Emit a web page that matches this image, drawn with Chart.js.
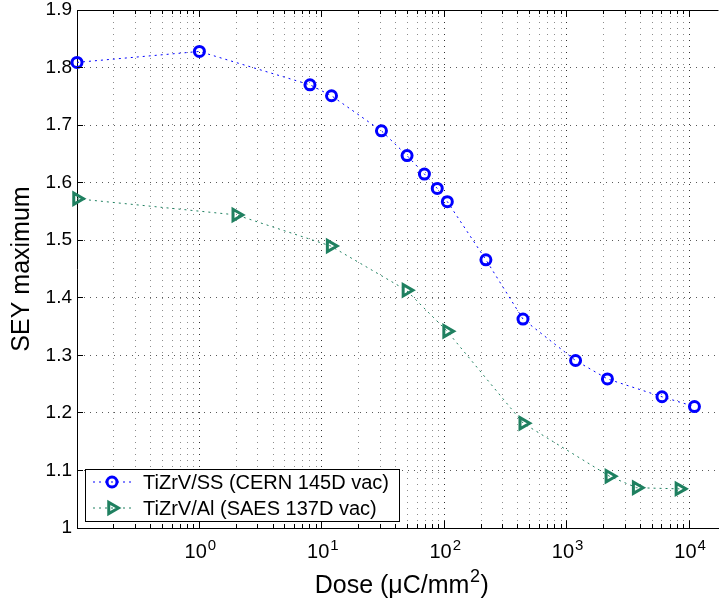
<!DOCTYPE html>
<html>
<head>
<meta charset="utf-8">
<script src="https://cdn.jsdelivr.net/npm/chart.js@4.4.1/dist/chart.umd.min.js"></script>
<style>
  html, body { margin: 0; padding: 0; background: #fff; }
  canvas { display: block; }
</style>
</head>
<body>
<canvas id="seyChart" width="728" height="604"></canvas>
<script>
// SEY maximum vs dose, two TiZrV coatings
const doseSS = [0.1, 1.0, 8.0, 12.0, 30.7, 49.7, 68.9, 87.7, 106, 219, 440, 1183, 2154, 6010, 11070];
const seySS  = [1.809, 1.828, 1.770, 1.751, 1.690, 1.647, 1.615, 1.590, 1.567, 1.466, 1.363, 1.291, 1.259, 1.228, 1.211];
const doseAl = [0.1, 2.0, 11.8, 49.1, 105.5, 442, 2234, 3732, 8340];
const seyAl  = [1.572, 1.544, 1.490, 1.413, 1.342, 1.182, 1.090, 1.070, 1.068];
const seriesLabels = ['TiZrV/SS (CERN 145D vac)', 'TiZrV/Al (SAES 137D vac)'];
const xLabelValues = [1, 10, 100, 1000, 10000];
const yTickValues = [1, 1.1, 1.2, 1.3, 1.4, 1.5, 1.6, 1.7, 1.8, 1.9];
const xLimits = [0.1, 17400];
const xTitle = ['Dose (μC/mm', '2', ')'];

const FONT = '"Liberation Sans", Arial, Helvetica, sans-serif';

const isDecade = v => Math.abs(Math.log10(v) - Math.round(Math.log10(v))) < 1e-9;

// grid positions 1..9 x 10^k inside the x limits
const xGrid = [];
for (let k = Math.floor(Math.log10(xLimits[0])); k <= Math.ceil(Math.log10(xLimits[1])); k++) {
  for (let m = 1; m <= 9; m++) {
    const v = m * Math.pow(10, k);
    if (v >= xLimits[0] * 0.999 && v <= xLimits[1]) xGrid.push(Number(v.toPrecision(6)));
  }
}

const alignPx = p => Math.round(p - 0.5) + 0.5;

// inner tick marks, top frame line, 10^n labels, x title, legend box
const decor = {
  id: 'decor',
  afterDraw(chart) {
    const { ctx, chartArea: a, scales: { x, y } } = chart;
    ctx.save();
    ctx.strokeStyle = '#000';
    ctx.lineWidth = 1;
    ctx.setLineDash([]);
    ctx.beginPath();
    ctx.moveTo(a.left, a.top + 0.5);
    ctx.lineTo(a.right, a.top + 0.5);
    x.ticks.forEach(t => {
      const px = alignPx(x.getPixelForValue(t.value));
      const len = isDecade(t.value) ? 7 : 4;
      ctx.moveTo(px, a.bottom); ctx.lineTo(px, a.bottom - len);
      ctx.moveTo(px, a.top); ctx.lineTo(px, a.top + len);
    });
    y.ticks.forEach(t => {
      const py = alignPx(y.getPixelForValue(t.value));
      ctx.moveTo(a.left, py); ctx.lineTo(a.left + 6, py);
    });
    ctx.stroke();

    // x tick labels as 10 with raised exponent
    ctx.fillStyle = '#000';
    ctx.textBaseline = 'alphabetic';
    ctx.textAlign = 'left';
    xLabelValues.forEach(v => {
      const px = x.getPixelForValue(v);
      const exp = String(Math.round(Math.log10(v)));
      ctx.font = '20px ' + FONT;
      const wBase = ctx.measureText('10').width;
      ctx.font = '15px ' + FONT;
      const wExp = ctx.measureText(exp).width;
      const start = px - (wBase + 1 + wExp) / 2 + 1;
      ctx.font = '20px ' + FONT;
      ctx.fillText('10', start, a.bottom + 30);
      ctx.font = '15px ' + FONT;
      ctx.fillText(exp, start + wBase + 1, a.bottom + 22);
    });

    // x axis title with superscript
    const big = '25px ' + FONT, small = '18px ' + FONT;
    ctx.font = big;
    const w0 = ctx.measureText(xTitle[0]).width;
    const w2 = ctx.measureText(xTitle[2]).width;
    ctx.font = small;
    const w1 = ctx.measureText(xTitle[1]).width;
    let tx = (a.left + a.right) / 2 + 4 - (w0 + w1 + w2 + 1) / 2;
    const base = a.bottom + 65;
    ctx.font = big;
    ctx.fillText(xTitle[0], tx, base);
    tx += w0 + 0.5;
    ctx.font = small;
    ctx.fillText(xTitle[1], tx, base - 11);
    tx += w1 + 0.5;
    ctx.font = big;
    ctx.fillText(xTitle[2], tx, base);

    // legend
    ctx.font = '20px ' + FONT;
    const sets = chart.data.datasets;
    const tw = Math.max(...sets.map(d => ctx.measureText(d.label).width));
    const rowH = 26;
    const left = a.left + 8;
    const w = 58 + tw + 10;
    const h = rowH * sets.length;
    const top = a.bottom - 7 - h;
    ctx.fillStyle = '#fff';
    ctx.fillRect(left, top, w, h);
    ctx.strokeStyle = '#000';
    ctx.strokeRect(Math.round(left) + 0.5, Math.round(top) + 0.5, Math.round(w), Math.round(h));
    sets.forEach((d, i) => {
      const cy = top + rowH * (i + 0.5);
      ctx.strokeStyle = d.borderColor;
      ctx.lineWidth = d.borderWidth;
      ctx.setLineDash(d.borderDash);
      ctx.beginPath();
      ctx.moveTo(left + 8, cy);
      ctx.lineTo(left + 46, cy);
      ctx.stroke();
      ctx.setLineDash([]);
      const mx = left + 27;
      const r = d.pointRadius;
      ctx.strokeStyle = d.pointBorderColor;
      ctx.lineWidth = d.pointBorderWidth;
      ctx.beginPath();
      if (d.pointStyle === 'circle') {
        ctx.arc(mx, cy, r, 0, Math.PI * 2);
      } else {
        let rad = (d.pointRotation || 0) * Math.PI / 180;
        for (let k = 0; k < 3; k++) {
          const px = mx + Math.sin(rad) * r, py = cy - Math.cos(rad) * r;
          if (k === 0) ctx.moveTo(px, py); else ctx.lineTo(px, py);
          rad += 2 * Math.PI / 3;
        }
        ctx.closePath();
      }
      ctx.stroke();
      ctx.fillStyle = '#000';
      ctx.textBaseline = 'middle';
      ctx.fillText(d.label, left + 58, cy + 1);
    });
    ctx.restore();
  }
};

new Chart(document.getElementById('seyChart'), {
  type: 'line',
  data: {
    datasets: [{
      label: seriesLabels[0],
      data: doseSS.map((d, i) => ({ x: d, y: seySS[i] })),
      borderColor: '#0000ff',
      borderWidth: 1,
      borderDash: [2, 4],
      pointStyle: 'circle',
      pointRadius: 5,
      pointBorderWidth: 3,
      pointBorderColor: '#0000ff',
      pointBackgroundColor: 'rgba(0,0,0,0)',
      tension: 0,
      fill: false,
      clip: false
    }, {
      label: seriesLabels[1],
      data: doseAl.map((d, i) => ({ x: d, y: seyAl[i] })),
      borderColor: '#1f8060',
      borderWidth: 1,
      borderDash: [2, 4],
      pointStyle: 'triangle',
      pointRotation: 90,
      pointRadius: 6.5,
      pointBorderWidth: 3,
      pointBorderColor: '#1f8060',
      pointBackgroundColor: 'rgba(0,0,0,0)',
      tension: 0,
      fill: false,
      clip: false
    }]
  },
  options: {
    responsive: false,
    animation: false,
    devicePixelRatio: 1,
    layout: { padding: { top: 10, left: 0, right: 0, bottom: 0 } },
    plugins: { legend: { display: false }, tooltip: { enabled: false } },
    scales: {
      x: {
        type: 'logarithmic',
        min: xLimits[0],
        max: xLimits[1],
        afterBuildTicks: s => { s.ticks = xGrid.map(v => ({ value: v, major: isDecade(v) })); },
        afterFit: s => { s.height = 76; s.paddingLeft = 0; s.paddingRight = 0; },
        ticks: { display: false },
        grid: {
          drawTicks: false,
          lineWidth: 1,
          color: c => (c.tick && isDecade(c.tick.value)) ? 'rgba(0,0,0,0.8)' : 'rgba(0,0,0,0.45)'
        },
        border: { color: '#000', width: 1, dash: [1, 5] }
      },
      y: {
        type: 'linear',
        min: 1,
        max: 1.9,
        afterBuildTicks: s => { s.ticks = yTickValues.map(v => ({ value: v })); },
        afterFit: s => { s.width = 77; s.paddingTop = 0; s.paddingBottom = 0; },
        ticks: {
          callback: v => String(v),
          color: '#000',
          font: { family: FONT, size: 19 },
          padding: 5
        },
        grid: { drawTicks: false, lineWidth: 1, color: 'rgba(0,0,0,0.65)' },
        border: { color: '#000', width: 1, dash: [1, 5] },
        title: {
          display: true,
          text: 'SEY maximum',
          color: '#000',
          font: { family: FONT, size: 25 },
          padding: { top: 7, bottom: 0 }
        }
      }
    }
  },
  plugins: [decor]
});
</script>
</body>
</html>
